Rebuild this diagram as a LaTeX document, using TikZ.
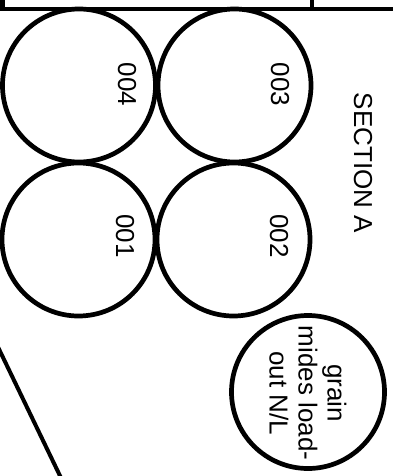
\documentclass[tikz,border=0pt]{standalone}
\usepackage{fontspec}
\setmainfont{Liberation Sans}
\tikzset{
  bin/.style={circle,draw=black,line width=4.7pt,minimum size=153pt,inner sep=0pt},
  lbl/.style={rotate=-90,inner sep=0pt,font=\fontsize{26}{29}\selectfont,align=center},
  wall/.style={line width=4.4pt,draw=black}
}
\begin{document}
\begin{tikzpicture}[x=1pt,y=-1pt]
\useasboundingbox (0,0) rectangle (393,476);
\clip (0,0) rectangle (393,476);
\coordinate (tl) at (2.5,-5);
\coordinate (bl) at (2.5,9);
\coordinate (br) at (398,9);
\coordinate (mt) at (312,-5);
\coordinate (mb) at (312,9);
\coordinate (d1) at (-3,345);
\coordinate (d2) at (62,480);
\draw[wall] (tl) -- (bl) -- (br);
\draw[wall] (mt) -- (mb);
\draw[wall,line width=4pt] (d1) -- (d2);
\node[bin] (c4) at (79,85.5) {};
\node[bin] (c3) at (234.5,85.5) {};
\node[bin] (c1) at (78.5,239.5) {};
\node[bin] (c2) at (233.5,239.5) {};
\node[bin] (c5) at (308,392) {};
\node[lbl] (t4) at (127,84.5) {004};
\node[lbl] (t3) at (280,84.5) {003};
\node[lbl] (t1) at (125,236) {001};
\node[lbl] (t2) at (279,236) {002};
\node[lbl] (ts) at (363,163) {SECTION A};
\node[lbl] (tg) at (308,393) {grain\\mides load-\\out N/L};
\end{tikzpicture}
\end{document}
